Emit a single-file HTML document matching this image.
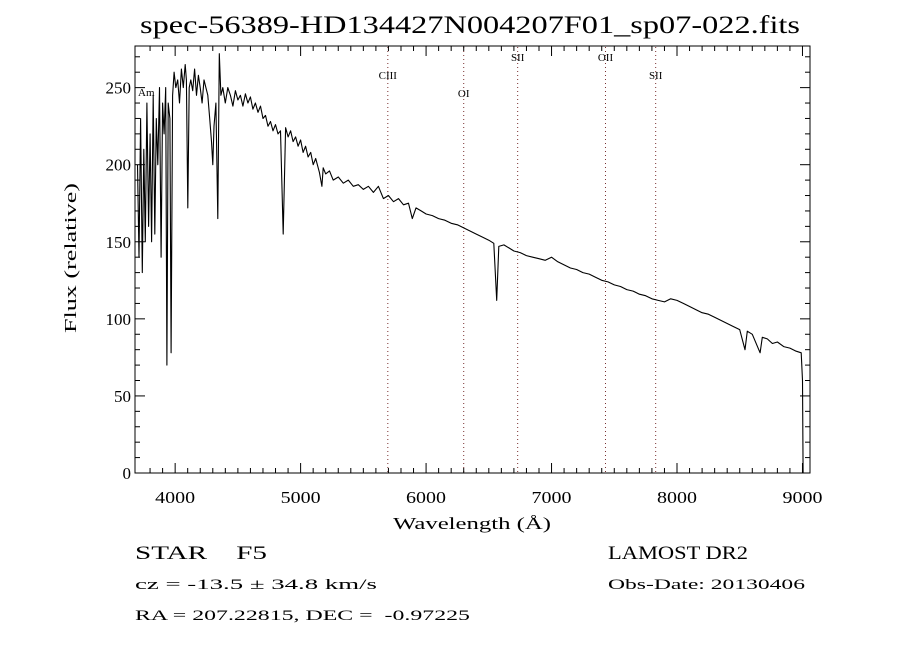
<!DOCTYPE html>
<html><head><meta charset="utf-8"><style>
html,body{margin:0;padding:0;background:#fff;}
svg text{font-family:"Liberation Serif",serif;fill:#000;white-space:pre;}
</style></head><body>
<svg id="chart" width="900" height="650" xmlns="http://www.w3.org/2000/svg" xml:space="preserve">
<rect x="0" y="0" width="900" height="650" fill="#fff"/>
<text x="470" y="33" font-size="25" text-anchor="middle" textLength="660" lengthAdjust="spacingAndGlyphs">spec-56389-HD134427N004207F01_sp07-022.fits</text>
<g id="lines"></g>
<path id="spec" fill="none" stroke="#000" stroke-width="1.1" stroke-linejoin="round"/>
<rect x="135" y="46" width="675" height="427" fill="none" stroke="#000" stroke-width="1"/>
<g id="xt"></g>
<g id="yt"></g>
<text x="472" y="529" font-size="17" text-anchor="middle" textLength="158" lengthAdjust="spacingAndGlyphs">Wavelength (Å)</text>
<text transform="translate(76,258) rotate(-90)" font-size="17" text-anchor="middle" textLength="150" lengthAdjust="spacingAndGlyphs">Flux (relative)</text>
<text x="135" y="559" font-size="19" textLength="132" lengthAdjust="spacingAndGlyphs">STAR    F5</text>
<text x="135" y="589" font-size="15" textLength="242" lengthAdjust="spacingAndGlyphs">cz = -13.5 ± 34.8 km/s</text>
<text x="135" y="620" font-size="15" textLength="335" lengthAdjust="spacingAndGlyphs">RA = 207.22815, DEC =  -0.97225</text>
<text x="608" y="559" font-size="19" textLength="140" lengthAdjust="spacingAndGlyphs">LAMOST DR2</text>
<text x="608" y="589" font-size="15" textLength="197" lengthAdjust="spacingAndGlyphs">Obs-Date: 20130406</text>
</svg>
<script>
const wavelengths=[3700,3712,3725,3738,3750,3762,3775,3788,3800,3812,3825,3838,3850,3862,3875,3888,3900,3912,3925,3934,3945,3958,3968,3980,3992,4005,4020,4035,4050,4065,4080,4090,4101,4112,4125,4140,4155,4170,4185,4200,4215,4230,4245,4260,4275,4290,4300,4310,4325,4340,4352,4365,4380,4400,4420,4440,4460,4480,4500,4520,4540,4560,4580,4600,4620,4640,4660,4680,4700,4720,4740,4760,4780,4800,4820,4840,4861,4880,4900,4920,4940,4960,4980,5000,5020,5040,5060,5080,5100,5120,5150,5170,5180,5200,5230,5260,5300,5340,5380,5420,5460,5500,5540,5580,5620,5660,5700,5740,5780,5820,5860,5890,5920,5960,6000,6050,6100,6150,6200,6250,6300,6350,6400,6450,6500,6540,6563,6580,6620,6660,6700,6750,6800,6850,6900,6950,7000,7050,7100,7150,7200,7250,7300,7350,7400,7450,7500,7550,7600,7650,7700,7750,7800,7850,7900,7950,8000,8050,8100,8150,8200,8250,8300,8350,8400,8450,8500,8542,8560,8600,8662,8680,8720,8760,8800,8850,8900,8950,8990,9000,9005];
const fluxValues=[200,140,230,130,210,150,240,160,220,150,245,155,230,200,250,140,240,220,250,70,240,230,78,245,260,250,255,240,262,250,265,255,172,250,255,248,262,245,258,250,240,255,250,245,230,215,200,225,240,165,272,245,250,240,250,245,238,248,242,245,238,246,240,244,236,240,234,238,230,232,225,228,222,226,220,222,155,224,218,222,215,218,212,216,208,212,205,208,200,204,195,186,198,194,196,190,192,188,190,186,187,184,186,182,186,178,180,176,178,174,175,165,172,170,168,167,165,164,162,161,159,157,155,153,151,149,112,147,148,146,144,143,141,140,139,138,140,137,135,133,132,130,129,127,125,124,122,121,119,118,116,115,113,112,111,113,112,110,108,106,104,103,101,99,97,95,93,80,92,90,78,88,87,84,85,82,81,79,78,60,0];
const xTicks=[4000,5000,6000,7000,8000,9000];
const yTicks=[0,50,100,150,200,250];
const lineNames=["CIII","OI","SII","OII","SII"];
const lineWaves=[5695,6300,6730,7430,7830];
const lineLabelY=[75,93,57,57,75];
const NS="http://www.w3.org/2000/svg";
const X0=3680,X1=9060,Y0=0,Y1=277;
function xs(v){return 135+(v-X0)/(X1-X0)*675;}
function ys(v){return 473-(v-Y0)/(Y1-Y0)*427;}
function mk(t,a,p){const e=document.createElementNS(NS,t);for(const k in a)e.setAttribute(k,a[k]);p.appendChild(e);return e;}
let d="";
wavelengths.forEach((w,i)=>{d+=(i?"L":"M")+xs(w).toFixed(1)+","+ys(fluxValues[i]).toFixed(1);});
document.getElementById("spec").setAttribute("d",d);
const xt=document.getElementById("xt");
for(let v=3800;v<=9000;v+=100){const x=xs(v);const big=v%1000===0;const len=big?10:5;
const t=mk("line",{x1:x,x2:x,y1:473,y2:473-len,stroke:"#000"},xt);


const t2=mk("line",{x1:x,x2:x,y1:46,y2:46+len,stroke:"#000"},xt);

}
xTicks.forEach(v=>{const e=mk("text",{x:xs(v),y:503,"font-size":"17","text-anchor":"middle",textLength:"40",lengthAdjust:"spacingAndGlyphs"},xt);e.textContent=v;

});
const yt=document.getElementById("yt");
for(let v=0;v<=275;v+=10){const y=ys(v);const big=v%50===0;const len=big?10:5;
const t=mk("line",{x1:135,x2:135+len,y1:y,y2:y,stroke:"#000"},yt);


const t2=mk("line",{x1:810,x2:810-len,y1:y,y2:y,stroke:"#000"},yt);

}
yTicks.forEach(v=>{const e=mk("text",{x:131,y:ys(v)+6,"font-size":"17","text-anchor":"end"},yt);e.textContent=v;

});
const lg=document.getElementById("lines");
lineWaves.forEach((w,i)=>{const x=xs(w);
const l=mk("line",{x1:x,x2:x,y1:47,y2:472,stroke:"#7a3030","stroke-width":"1","stroke-dasharray":"1,3"},lg);


const t=mk("text",{x:x,y:lineLabelY[i]+4,"font-size":"11","text-anchor":"middle"},lg);t.textContent=lineNames[i];

});
const am=mk("text",{x:138,y:96,"font-size":"11"},lg);am.textContent="Am";


</script>
</body></html>
